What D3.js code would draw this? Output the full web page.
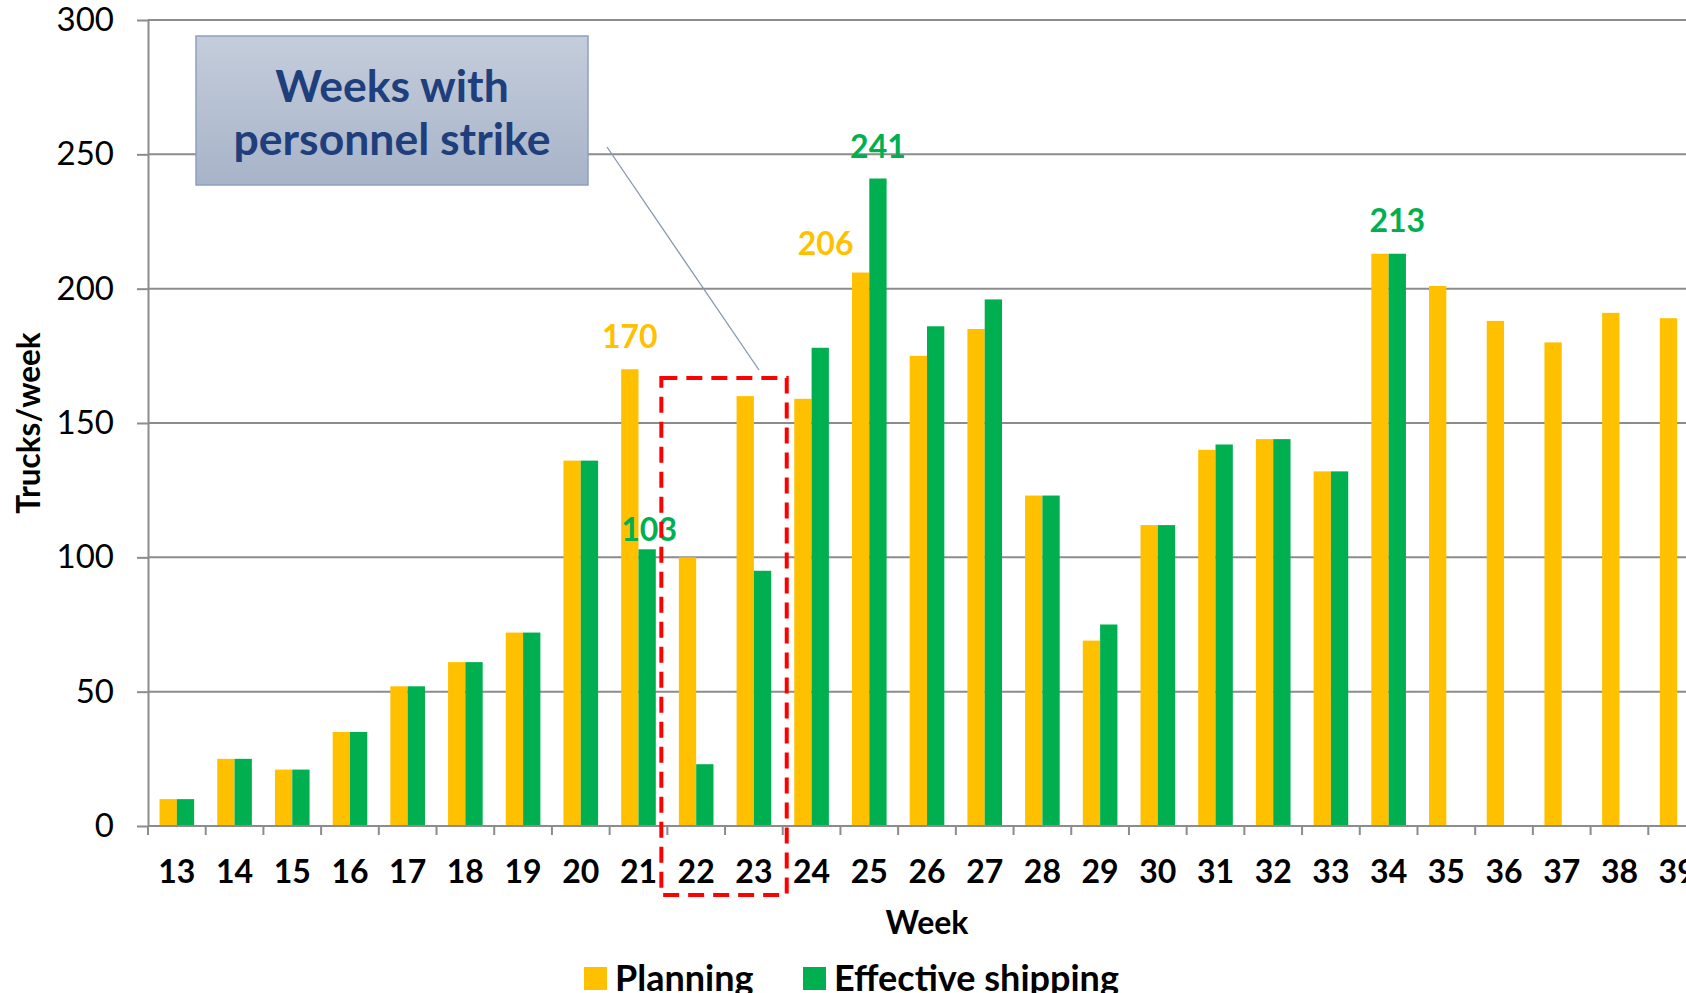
<!DOCTYPE html>
<html>
<head>
<meta charset="utf-8">
<script src="https://cdn.jsdelivr.net/npm/d3@7"></script>
<style>
  html, body { margin: 0; padding: 0; background: #fff; }
  svg { display: block; font-family: Lato, "Open Sans", sans-serif; }
</style>
</head>
<body>
<svg id="chart" width="1686" height="993"></svg>
<script>
// Weekly truck counts: planned vs. actually shipped
const weeks = ["13","14","15","16","17","18","19","20","21","22","23","24","25","26",
               "27","28","29","30","31","32","33","34","35","36","37","38","39"];
const planning = [10, 25, 21, 35, 52, 61, 72, 136, 170, 100, 160, 159, 206, 175,
                  185, 123, 69, 112, 140, 144, 132, 213, 201, 188, 180, 191, 189];
const shipping = [10, 25, 21, 35, 52, 61, 72, 136, 103, 23, 95, 178, 241, 186,
                  196, 123, 75, 112, 142, 144, 132, 213, null, null, null, null, null];
const yTicks = [0, 50, 100, 150, 200, 250, 300];
const seriesNames = ["Planning", "Effective shipping"];
const strikeWeeks = ["22", "23"];
const calloutLines = ["Weeks with", "personnel strike"];
// bars that carry a value label
const labelled = [
  { week: "21", series: 0 }, { week: "21", series: 1 },
  { week: "25", series: 0 }, { week: "25", series: 1 },
  { week: "34", series: 1 }
];

(function draw() {
  const colors = ["#FFC000", "#00B050"];
  const gridColor = "#8C8C8C";

  const svg = d3.select("#chart");
  const plotLeft = 148, plotRight = 1706, plotTop = 20, plotBottom = 826;

  const x = d3.scaleBand().domain(weeks).range([plotLeft, plotRight]).paddingInner(0).paddingOuter(0);
  const step = x.step();
  const groupW = step * 0.6;
  const x1 = d3.scaleBand().domain([0, 1]).range([0, groupW]);
  const y = d3.scaleLinear().domain([0, 300]).range([plotBottom, plotTop]);
  const valueOf = (week, s) => {
    const i = weeks.indexOf(week);
    return s === 0 ? planning[i] : shipping[i];
  };
  const barCenter = (week, s) => x(week) + (step - groupW) / 2 + x1(s) + x1.bandwidth() / 2;

  const rows = weeks.map((w, i) => ({ week: w, vals: [planning[i], shipping[i]] }));

  // horizontal gridlines
  svg.append("g")
    .selectAll("line")
    .data(yTicks.filter(t => t > 0))
    .join("line")
    .attr("x1", plotLeft).attr("x2", plotRight)
    .attr("y1", d => y(d)).attr("y2", d => y(d))
    .attr("stroke", gridColor).attr("stroke-width", 2);

  // y axis
  const yAxis = svg.append("g")
    .attr("transform", `translate(${plotLeft},0)`)
    .call(d3.axisLeft(y).tickValues(yTicks).tickSize(11).tickPadding(23).tickSizeOuter(0));
  yAxis.select(".domain").attr("stroke", gridColor).attr("stroke-width", 2);
  yAxis.selectAll(".tick line").attr("stroke", gridColor).attr("stroke-width", 2);
  yAxis.selectAll(".tick text")
    .attr("font-size", 33).attr("font-family", "Lato").attr("fill", "#000");

  // bars
  const groups = svg.append("g")
    .selectAll("g")
    .data(rows)
    .join("g")
    .attr("transform", d => `translate(${x(d.week) + (step - groupW) / 2},0)`);

  groups.selectAll("rect")
    .data(d => d.vals.map((v, s) => ({ v, s })).filter(e => e.v != null))
    .join("rect")
    .attr("x", d => x1(d.s))
    .attr("width", x1.bandwidth())
    .attr("y", d => y(d.v))
    .attr("height", d => y(0) - y(d.v))
    .attr("fill", d => colors[d.s]);

  // x axis baseline with ticks at category boundaries
  const xAxis = svg.append("g").attr("transform", `translate(0,${plotBottom})`);
  xAxis.append("line")
    .attr("x1", plotLeft).attr("x2", plotRight)
    .attr("stroke", gridColor).attr("stroke-width", 2);
  xAxis.selectAll("line.tk")
    .data(weeks.map(w => x(w)).concat([x(weeks[weeks.length - 1]) + step]))
    .join("line")
    .attr("class", "tk")
    .attr("x1", d => d).attr("x2", d => d)
    .attr("y1", 0).attr("y2", 9)
    .attr("stroke", gridColor).attr("stroke-width", 2);

  const xLabels = svg.append("g")
    .attr("transform", `translate(0,${plotBottom})`)
    .call(d3.axisBottom(x).tickSize(0).tickPadding(34));
  xLabels.select(".domain").remove();
  xLabels.selectAll(".tick text")
    .attr("font-size", 32).attr("font-weight", "bold").attr("font-family", "Lato").attr("fill", "#000");

  // axis titles
  svg.append("text")
    .attr("transform", `translate(29,${(plotTop + plotBottom) / 2}) rotate(-90)`)
    .attr("text-anchor", "middle").attr("dy", "0.35em")
    .attr("font-size", 31.5).attr("font-weight", "bold").attr("fill", "#000")
    .text("Trucks/week");

  svg.append("text")
    .attr("x", (plotLeft + plotRight) / 2).attr("y", 923)
    .attr("text-anchor", "middle").attr("dy", "0.35em")
    .attr("font-size", 32).attr("font-weight", "bold").attr("fill", "#000")
    .text("Week");

  // value labels
  const labelNudge = { "21-0": [0, 21], "21-1": [2, 8], "25-0": [-35, 18], "25-1": [0, 21], "34-1": [0, 22] };
  svg.append("g")
    .selectAll("text")
    .data(labelled)
    .join("text")
    .attr("x", d => barCenter(d.week, d.series) + labelNudge[`${d.week}-${d.series}`][0])
    .attr("y", d => y(valueOf(d.week, d.series)) - labelNudge[`${d.week}-${d.series}`][1])
    .attr("text-anchor", "middle")
    .attr("font-size", 32).attr("font-weight", "bold")
    .attr("fill", d => colors[d.series])
    .text(d => valueOf(d.week, d.series));

  // dashed frame round the strike weeks
  const sx0 = x(strikeWeeks[0]) - 6;
  const sx1 = x(strikeWeeks[strikeWeeks.length - 1]) + step + 4;
  svg.append("rect")
    .attr("x", sx0).attr("y", 378)
    .attr("width", sx1 - sx0).attr("height", 895 - 378)
    .attr("fill", "none")
    .attr("stroke", "#FF0000").attr("stroke-width", 4)
    .attr("stroke-dasharray", "16 9");

  // callout box and leader line
  const defs = svg.append("defs");
  const grad = defs.append("linearGradient").attr("id", "calloutFill")
    .attr("x1", 0).attr("y1", 0).attr("x2", 0).attr("y2", 1);
  grad.append("stop").attr("offset", "0%").attr("stop-color", "#C4CDDB");
  grad.append("stop").attr("offset", "100%").attr("stop-color", "#A7B3C8");

  svg.append("line")
    .attr("x1", 607).attr("y1", 147)
    .attr("x2", 759).attr("y2", 370)
    .attr("stroke", "#8497B0").attr("stroke-width", 1.3);

  svg.append("rect")
    .attr("x", 196).attr("y", 36)
    .attr("width", 392).attr("height", 149)
    .attr("fill", "url(#calloutFill)")
    .attr("stroke", "#8EA0BF").attr("stroke-width", 1.5);

  svg.append("g")
    .selectAll("text")
    .data(calloutLines)
    .join("text")
    .attr("x", 392)
    .attr("y", (d, i) => 86 + i * 53)
    .attr("dy", "0.35em")
    .attr("text-anchor", "middle")
    .attr("font-size", 44.5).attr("font-weight", "bold")
    .attr("fill", "#1F3E7C")
    .text(d => d);

  // legend
  const legendX = [584, 803];
  const leg = svg.append("g")
    .selectAll("g")
    .data(seriesNames)
    .join("g")
    .attr("transform", (d, i) => `translate(${legendX[i]},967)`);
  leg.append("rect").attr("width", 23).attr("height", 23).attr("fill", (d, i) => colors[i]);
  leg.append("text")
    .attr("x", 31).attr("y", 11.5).attr("dy", "0.35em")
    .attr("font-size", 36).attr("font-weight", "bold").attr("fill", "#000")
    .text(d => d);
})();
</script>
</body>
</html>
